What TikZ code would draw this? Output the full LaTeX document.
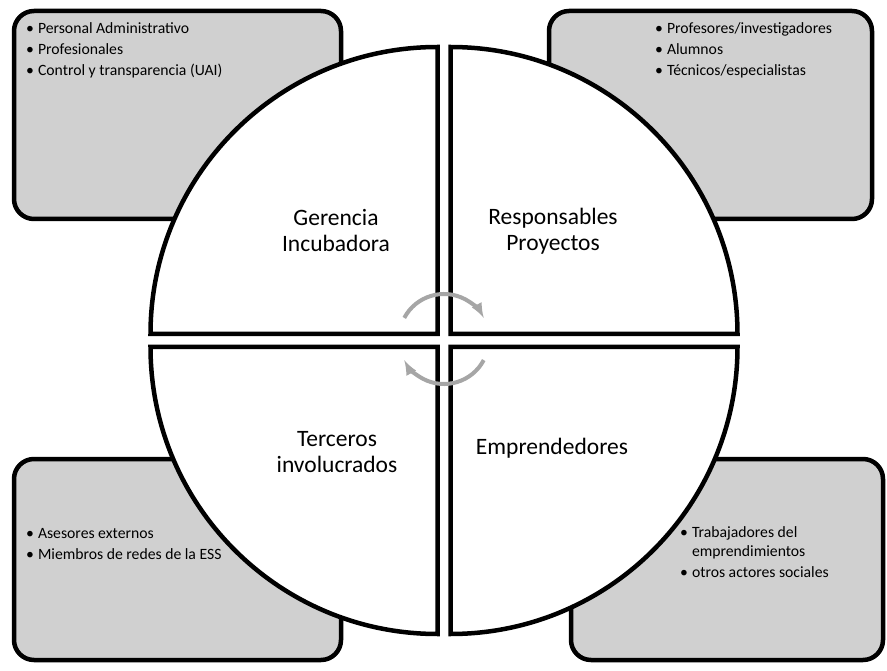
\documentclass[tikz,border=0pt]{standalone}
\usepackage{fontspec}
\setmainfont{Carlito}

\definecolor{boxgray}{RGB}{208,208,208}
\definecolor{cyclegray}{RGB}{166,166,166}

\begin{document}
\begin{tikzpicture}[
        x=1pt, y=-1pt,
        sidebox/.style={draw, line width=4.5pt, fill=boxgray, rounded corners=20pt},
        quadrant/.style={draw, line width=4.5pt, fill=white},
        cyclearrow/.style={draw=cyclegray, line width=4pt, -latex},
        quadlabel/.style={align=center, inner sep=0pt, font=\fontsize{23.5}{26}\selectfont},
        bullets/.style={anchor=base west, inner sep=0pt, font=\fontsize{15.7}{19}\selectfont}
    ]
 \useasboundingbox (0,0) rectangle (887,671);
 % side boxes
 \draw[sidebox] (14,11) rectangle (341,219);
 \draw[sidebox] (549,11) rectangle (872,219);
 \draw[sidebox] (14,459) rectangle (341,660);
 \draw[sidebox] (571,459) rectangle (883,660);
 % quadrants
 \draw[quadrant] (437.5,334) -- ++(-287,0) arc[start angle=180, end angle=270, radius=287] -- cycle;
 \draw[quadrant] (450.5,334) -- ++(0,-287) arc[start angle=270, end angle=360, radius=287] -- cycle;
 \draw[quadrant] (450.5,347) -- ++(287,0) arc[start angle=0, end angle=90, radius=287] -- cycle;
 \draw[quadrant] (437.5,347) -- ++(0,287) arc[start angle=90, end angle=180, radius=287] -- cycle;
 % cycle
 \coordinate (hub) at (444,339);
 \draw[cyclearrow] ([shift={(208:45)}]hub) arc[start angle=208, end angle=332, radius=45];
 \draw[cyclearrow] ([shift={(28:45)}]hub) arc[start angle=28, end angle=152, radius=45];
 % labels
 \node[quadlabel] (gerencia) at (336,231) {Gerencia\\Incubadora};
 \node[quadlabel] (responsables) at (553,231) {Responsables\\Proyectos};
 \node[quadlabel] (terceros) at (337,452) {Terceros\\involucrados};
 \node[quadlabel] (emprendedores) at (552,448) {Emprendedores};
 % bullet lists
 \node[bullets] (gerenciaitems) at (26,34) {\begin{tabular}[t]{@{}l@{\hspace{4pt}}l@{}}
   \textbullet & Personal Administrativo\\[2pt]
   \textbullet & Profesionales\\[2pt]
   \textbullet & Control y transparencia (UAI)
 \end{tabular}};
 \node[bullets] (responsablesitems) at (655,34) {\begin{tabular}[t]{@{}l@{\hspace{4pt}}l@{}}
   \textbullet & Profesores/investigadores\\[2pt]
   \textbullet & Alumnos\\[2pt]
   \textbullet & Técnicos/especialistas
 \end{tabular}};
 \node[bullets] (tercerositems) at (26,538) {\begin{tabular}[t]{@{}l@{\hspace{4pt}}l@{}}
   \textbullet & Asesores externos\\[2pt]
   \textbullet & Miembros de redes de la ESS
 \end{tabular}};
 \node[bullets] (emprendedoresitems) at (680,537) {\begin{tabular}[t]{@{}l@{\hspace{4pt}}l@{}}
   \textbullet & Trabajadores del\\
               & emprendimientos\\[2pt]
   \textbullet & otros actores sociales
 \end{tabular}};
\end{tikzpicture}
\end{document}
